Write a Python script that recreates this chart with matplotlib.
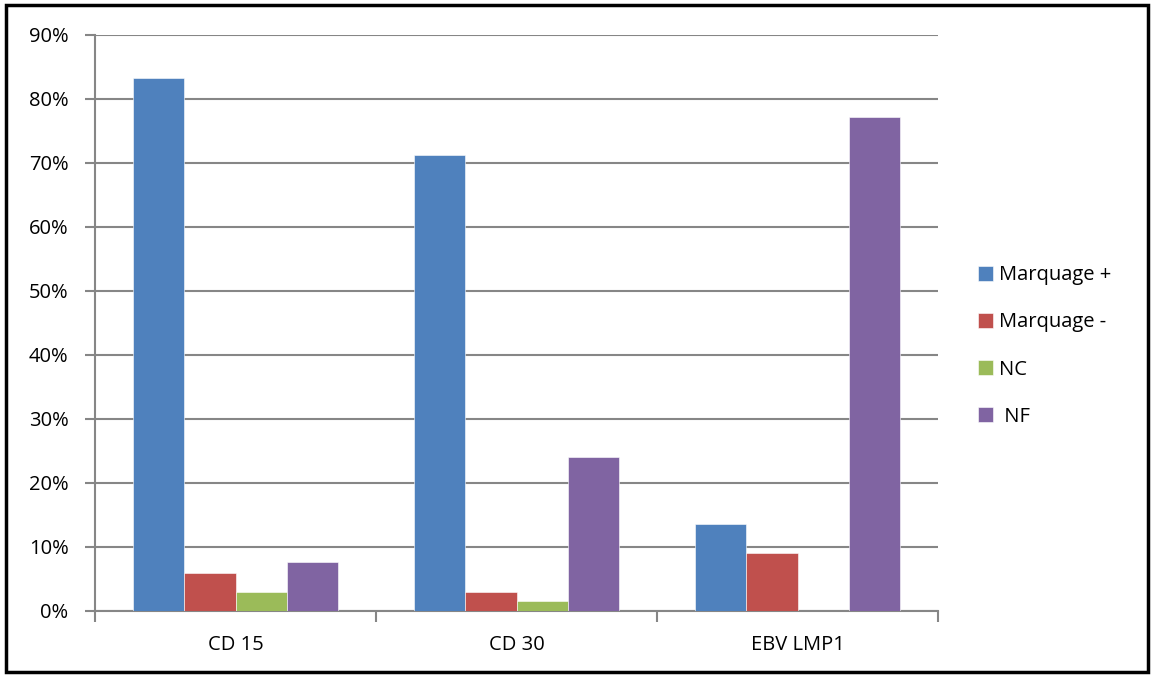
import numpy as np
import matplotlib
matplotlib.use("Agg")
import matplotlib.pyplot as plt
from matplotlib.patches import Rectangle
from matplotlib.ticker import FixedLocator, PercentFormatter

categories = ["CD 15", "CD 30", "EBV LMP1"]
series_names = ["Marquage +", "Marquage -", "NC", " NF"]
marquage_pos = [83.3, 71.2, 13.6]
marquage_neg = [6.0, 3.0, 9.1]
nc = [3.0, 1.5, 0.0]
nf = [7.6, 24.1, 77.2]
colors = ["#4f81bd", "#c0504d", "#9bbb59", "#8064a2"]

plt.rcParams["font.family"] = ["Open Sans", "DejaVu Sans"]

fig = plt.figure(figsize=(11.52, 6.77), dpi=100)
ax = fig.add_axes([95 / 1152, 1 - 611 / 677, (938 - 95) / 1152, (611 - 35) / 677])

# black frame around the whole chart
fig.patches.append(Rectangle((6 / 1152, 5 / 677), 1142 / 1152, 667 / 677,
                             transform=fig.transFigure, fill=False,
                             edgecolor="black", linewidth=2.5))

values = [marquage_pos, marquage_neg, nc, nf]
x = np.arange(len(categories))
w = 1 / (4 + 1.5)
for i, (vals, name, c) in enumerate(zip(values, series_names, colors)):
    ax.bar(x + (i - 1.5) * w, vals, width=w, color=c, label=name,
           edgecolor="white", linewidth=0.4, zorder=3)

grid_c = "#868686"
ax.set_xlim(-0.5, 2.5)
ax.set_ylim(0, 90)
ax.set_yticks(np.arange(0, 91, 10))
ax.yaxis.set_major_formatter(PercentFormatter(decimals=0))
ax.set_xticks(x)
ax.set_xticklabels(categories)
ax.xaxis.set_minor_locator(FixedLocator([-0.5, 0.5, 1.5, 2.5]))
ax.tick_params(axis="x", which="major", length=0, pad=17, labelsize=14.5)
ax.tick_params(axis="x", which="minor", length=8, color=grid_c, width=1.5)
ax.tick_params(axis="y", length=7, color=grid_c, width=1.5, pad=12, labelsize=14.5)
ax.grid(axis="y", color=grid_c, linewidth=1.5, zorder=0)
for s in ["top", "right"]:
    ax.spines[s].set_visible(False)
for s in ["left", "bottom"]:
    ax.spines[s].set_color(grid_c)
    ax.spines[s].set_linewidth(1.5)

ax.legend(loc="center left", bbox_to_anchor=(978 / 1152, 1 - 346 / 677),
          bbox_transform=fig.transFigure, frameon=False, fontsize=14.5,
          handlelength=0.75, handleheight=0.75, handletextpad=0.3,
          labelspacing=1.35, borderaxespad=0, borderpad=0)

plt.savefig("out.png", dpi=100)
plt.close()
